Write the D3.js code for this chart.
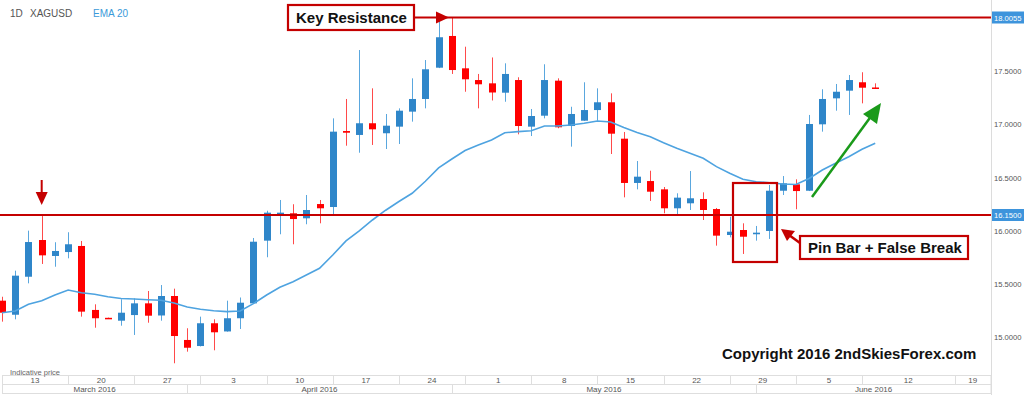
<!DOCTYPE html>
<html><head><meta charset="utf-8">
<script src="https://cdn.jsdelivr.net/npm/d3@7/dist/d3.min.js"></script>
<style>
html,body{margin:0;padding:0;background:#fff;}
svg{display:block;font-family:"Liberation Sans",Arial,sans-serif;}
</style></head>
<body>
<svg id="c" width="1024" height="395"></svg>
<script>
// ---- data (XAGUSD daily, 14 Mar 2016 .. 3 Jun 2016) ----
const opens  = [15.345,15.213,15.570,15.915,15.765,15.802,15.859,15.258,15.184,15.157,15.210,15.320,15.206,15.389,14.976,14.919,15.133,15.056,15.180,15.320,
                15.909,16.159,16.166,16.119,16.253,16.225,16.939,16.902,17.012,16.918,16.980,17.121,17.240,17.534,17.832,17.528,17.418,17.387,17.299,17.418,
                16.980,17.083,17.412,16.986,17.036,17.136,17.209,16.867,16.451,16.469,16.391,16.213,16.260,16.300,16.206,15.962,16.009,15.969,16.000,16.378,
                16.438,16.378,17.002,17.246,17.318,17.397,17.348];
const highs  = [15.382,15.627,16.003,16.140,15.894,15.988,15.906,15.311,15.186,15.358,15.367,15.436,15.492,15.458,15.086,15.195,15.170,15.345,15.375,15.934,
                16.190,16.291,16.251,16.338,16.291,17.058,17.240,17.700,17.340,17.099,17.152,17.434,17.606,17.973,18.0055,17.731,17.475,17.630,17.575,17.444,
                17.146,17.566,17.434,17.167,17.397,17.340,17.293,16.930,16.657,16.566,16.413,16.354,16.563,16.363,16.216,16.134,16.072,16.047,16.432,16.516,
                16.485,17.090,17.331,17.381,17.465,17.491,17.387];
const lows   = [15.148,15.170,15.508,15.690,15.664,15.743,15.195,15.091,15.177,15.110,15.023,15.138,15.157,14.757,14.866,14.915,14.879,15.054,15.079,15.318,
                15.753,15.969,15.875,16.063,16.072,16.150,16.801,16.735,16.808,16.770,16.817,17.027,17.152,17.530,17.475,17.308,17.152,17.226,17.214,16.908,
                16.892,17.058,16.965,16.792,17.034,17.036,16.723,16.316,16.391,16.282,16.166,16.150,16.197,16.103,15.862,15.940,15.784,15.909,15.925,16.338,
                16.204,16.375,16.933,17.130,17.090,17.199,17.334];
const closes = [15.232,15.580,15.896,15.771,15.812,15.875,15.242,15.180,15.180,15.232,15.320,15.204,15.389,15.013,14.903,15.133,15.048,15.180,15.326,15.899,
                16.172,16.172,16.112,16.197,16.213,16.933,16.923,17.012,16.955,16.989,17.130,17.240,17.519,17.820,17.512,17.425,17.378,17.301,17.475,16.986,
                17.080,17.418,16.974,17.099,17.136,17.209,16.914,16.451,16.510,16.369,16.213,16.313,16.307,16.197,15.956,15.993,15.946,15.984,16.378,16.448,
                16.375,17.005,17.240,17.308,17.418,17.346,17.334];
const ema20  = [15.232,15.248,15.311,15.345,15.398,15.445,15.420,15.405,15.382,15.366,15.361,15.354,15.349,15.323,15.286,15.265,15.250,15.242,15.248,15.317,
                15.398,15.471,15.523,15.586,15.649,15.774,15.906,16.000,16.103,16.195,16.277,16.354,16.467,16.592,16.676,16.756,16.808,16.855,16.923,16.933,
                16.942,16.986,16.986,16.996,17.012,17.033,17.024,16.972,16.925,16.886,16.829,16.777,16.730,16.683,16.604,16.542,16.485,16.463,16.453,16.441,
                16.437,16.493,16.573,16.636,16.698,16.767,16.824];
const weekLabels = ["13","20","27","3","10","17","24","1","8","15","22","29","5","12","19"];
const weekStarts = [0,5,10,15,20,25,30,35,40,45,50,55,60,65,72];   // trading-day index where each week cell begins
const monthLabels = ["March 2016","April 2016","May 2016","June 2016"];
const monthStarts = [0,14,34,57];
const slotCount = 74.75;                                               // visible day slots incl. future space
const yTicks = [15.0,15.5,16.0,16.5,17.0,17.5];
const resistance = 18.0055, support = 16.15;

// ---- setup ----
const svg = d3.select("#c");
const plotRight = 991;
const x = d3.scaleLinear().domain([0, slotCount]).range([2, plotRight]);
const y = d3.scaleLinear().domain([support, resistance]).range([215, 17.5]);
const BLUE = "#2f86c9", RED = "#ff0000", DARKRED = "#c40000";

// legend
const lg = svg.append("g").attr("font-size", 10);
lg.append("text").attr("x", 10).attr("y", 17).attr("fill", "#555").text("1D");
lg.append("text").attr("x", 30).attr("y", 17).attr("fill", "#555").text("XAGUSD");
lg.append("text").attr("x", 93).attr("y", 17).attr("fill", "#3a9ad9").text("EMA 20");

// right border and axis
svg.append("line").attr("x1", plotRight + 0.5).attr("x2", plotRight + 0.5).attr("y1", 0).attr("y2", 395)
  .attr("stroke", "#dcdcdc");
const ax = svg.append("g").attr("transform", `translate(${plotRight},0)`)
  .call(d3.axisRight(y).tickValues(yTicks).tickFormat(d3.format(".4f")).tickSize(0).tickPadding(3));
ax.select(".domain").remove();
ax.selectAll("text").attr("font-size", 7.6).attr("fill", "#555").attr("font-family", "Liberation Sans, Arial, sans-serif");

// candles
const data = opens.map((o, i) => ({i, o, h: highs[i], l: lows[i], c: closes[i]}));
const cg = svg.append("g");
cg.selectAll("line.w").data(data).join("line")
  .attr("x1", d => Math.round(x(d.i)) + 0.5).attr("x2", d => Math.round(x(d.i)) + 0.5)
  .attr("y1", d => y(d.h)).attr("y2", d => y(d.l))
  .attr("stroke", d => d.c >= d.o ? "#5aa7de" : "#ff4a4a").attr("stroke-width", 1);
cg.selectAll("rect.b").data(data).join("rect")
  .attr("x", d => Math.round(x(d.i)) - 3).attr("width", 7)
  .attr("y", d => Math.min(y(d.o), y(d.c)))
  .attr("height", d => Math.max(1.5, Math.abs(y(d.o) - y(d.c))))
  .attr("fill", d => d.c >= d.o ? BLUE : RED);

// EMA
svg.append("path").datum(ema20)
  .attr("d", d3.line().x((d, i) => x(i)).y(d => y(d)))
  .attr("fill", "none").attr("stroke", "#4ea3e0").attr("stroke-width", 1.6);

// support / resistance lines
svg.append("line").attr("x1", 0).attr("x2", plotRight).attr("y1", y(support)).attr("y2", y(support))
  .attr("stroke", DARKRED).attr("stroke-width", 2.2);
svg.append("line").attr("x1", 414).attr("x2", plotRight).attr("y1", y(resistance)).attr("y2", y(resistance))
  .attr("stroke", DARKRED).attr("stroke-width", 2.2);
// right-side price tags
[[resistance, "18.0055"], [support, "16.1500"]].forEach(([v, t]) => {
  svg.append("rect").attr("x", plotRight + 1).attr("y", y(v) - 6).attr("width", 33).attr("height", 12).attr("fill", "#3d94dc");
  svg.append("text").attr("x", plotRight + 3).attr("y", y(v) + 3).attr("font-size", 7.6).attr("fill", "#fff")
    .text(t);
});

// bottom time axis
const tg = svg.append("g").attr("font-size", 8).attr("fill", "#555");
const wkEnds = weekStarts.slice(1).concat([slotCount]);
const monEnds = monthStarts.slice(1).concat([slotCount]);
tg.append("rect").attr("x", 2.5).attr("y", 375.5).attr("width", plotRight - 2.5).attr("height", 18)
  .attr("fill", "none").attr("stroke", "#dedede");
tg.append("line").attr("x1", 2.5).attr("x2", plotRight).attr("y1", 384.5).attr("y2", 384.5).attr("stroke", "#dedede");
weekStarts.forEach((s, k) => {
  tg.append("line").attr("x1", Math.round(x(s)) + 0.5).attr("x2", Math.round(x(s)) + 0.5)
    .attr("y1", 375.5).attr("y2", 384.5).attr("stroke", "#dedede");
  tg.append("text").attr("x", (x(s) + x(wkEnds[k])) / 2).attr("y", 383).attr("text-anchor", "middle").text(weekLabels[k]);
});
monthStarts.forEach((s, k) => {
  tg.append("line").attr("x1", Math.round(x(s)) + 0.5).attr("x2", Math.round(x(s)) + 0.5)
    .attr("y1", 384.5).attr("y2", 393.5).attr("stroke", "#dedede");
  tg.append("text").attr("x", (x(s) + x(monEnds[k])) / 2).attr("y", 392).attr("text-anchor", "middle").text(monthLabels[k]);
});
svg.append("text").attr("x", 10).attr("y", 374.5).attr("font-size", 7.5).attr("fill", "#666").text("Indicative price");

// ---- annotations ----
// down arrow over the first rejection
const ax0 = x(3);
svg.append("line").attr("x1", ax0).attr("x2", ax0).attr("y1", 180).attr("y2", 194).attr("stroke", DARKRED).attr("stroke-width", 2);
svg.append("path").attr("d", `M${ax0 - 6},192 L${ax0 + 6},192 L${ax0},205 Z`).attr("fill", DARKRED);

// Key Resistance label
svg.append("rect").attr("x", 288).attr("y", 5).attr("width", 126).attr("height", 25)
  .attr("fill", "#fff").attr("stroke", DARKRED).attr("stroke-width", 2.2);
svg.append("text").attr("x", 296).attr("y", 23).attr("font-size", 15).attr("font-weight", "bold").attr("fill", "#111")
  .text("Key Resistance");
svg.append("path").attr("d", `M436,${y(resistance) - 6} L449,${y(resistance)} L436,${y(resistance) + 6} Z`).attr("fill", DARKRED);

// pin bar box
svg.append("rect").attr("x", 733).attr("y", 183).attr("width", 44).attr("height", 79)
  .attr("fill", "none").attr("stroke", DARKRED).attr("stroke-width", 2.2);
// arrow to pin bar
svg.append("line").attr("x1", 800).attr("y1", 243).attr("x2", 789).attr("y2", 235).attr("stroke", DARKRED).attr("stroke-width", 2.5);
svg.append("path").attr("d", "M781,229 L795,231 L787,241 Z").attr("fill", DARKRED);
svg.append("rect").attr("x", 800).attr("y", 236).attr("width", 168).attr("height", 23)
  .attr("fill", "#fff").attr("stroke", DARKRED).attr("stroke-width", 2.2);
svg.append("text").attr("x", 808).attr("y", 253).attr("font-size", 15).attr("font-weight", "bold").attr("fill", "#111")
  .text("Pin Bar + False Break");

// green arrow
svg.append("line").attr("x1", 812).attr("y1", 197).attr("x2", 872).attr("y2", 115).attr("stroke", "#1a9a1a").attr("stroke-width", 2.5);
svg.append("path").attr("d", "M881,103 L877,124 L863,114 Z").attr("fill", "#1a9a1a");

// copyright
svg.append("text").attr("x", 722).attr("y", 359).attr("font-size", 15).attr("font-weight", "bold").attr("fill", "#111")
  .text("Copyright 2016 2ndSkiesForex.com");
</script>
</body></html>
